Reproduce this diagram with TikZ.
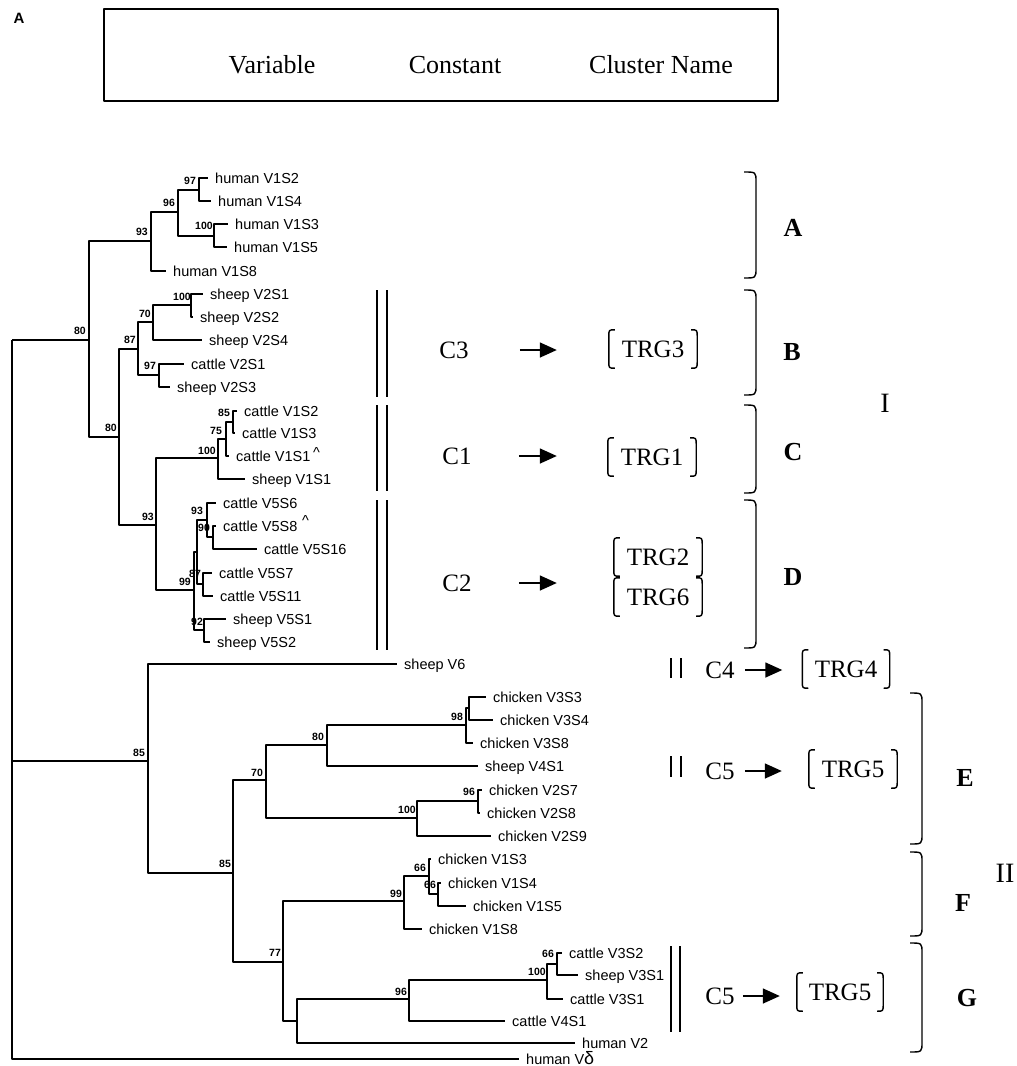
\documentclass[tikz,border=0pt]{standalone}
\usepackage{fontspec}
\setmainfont{Liberation Serif}
\newfontfamily\arialfont{Liberation Sans}
\usetikzlibrary{arrows.meta}

\tikzset{
  branch/.style={line width=1.2pt},
  leaf/.style={anchor=west, inner xsep=7pt, inner ysep=0pt, text height=10.4pt,
    text depth=0pt, font=\arialfont\fontsize{14.5}{16}\selectfont},
  boot/.style={inner sep=0pt, font=\arialfont\bfseries\fontsize{10.5}{12}\selectfont},
  gene/.style={inner sep=0pt, font=\fontsize{25}{28}\selectfont},
  trg/.style={gene, minimum width=88pt, minimum height=38pt},
  clus/.style={inner sep=0pt, font=\bfseries\fontsize{26}{28}\selectfont},
  grp/.style={inner sep=0pt, font=\fontsize{28}{30}\selectfont},
  brk/.style={line width=1.4pt},
  dbl/.style={line width=1.4pt},
  arr/.style={line width=1.5pt, -{Triangle[length=17pt, width=15pt]}},
}

% brackets round a cluster name node
\newcommand{\trgbrk}[1]{%
  \draw[brk] ([xshift=6pt]#1.north west) .. controls (#1.north west) .. ([yshift=-7pt]#1.north west)
    -- ([yshift=7pt]#1.south west) .. controls (#1.south west) .. ([xshift=6pt]#1.south west);
  \draw[brk] ([xshift=-6pt]#1.north east) .. controls (#1.north east) .. ([yshift=-7pt]#1.north east)
    -- ([yshift=7pt]#1.south east) .. controls (#1.south east) .. ([xshift=-6pt]#1.south east);}
% big bracket of a cluster: x, top, bottom
\newcommand{\clbrace}[3]{%
  \draw[brk] (#1,#2) .. controls (#1+12,#2) .. (#1+12,#2+10)
    -- (#1+12,#3-10) .. controls (#1+12,#3) .. (#1,#3);}

\begin{document}
\begin{tikzpicture}[x=1pt, y=-1pt, line join=round]
  \useasboundingbox (0,0) rectangle (1017,1066);

  % panel letter and legend box
  \node[font=\arialfont\bfseries\fontsize{15}{16}\selectfont] (panel) at (19,18) {A};
  \node[draw, line width=1.4pt, minimum width=674pt, minimum height=92pt] (legend) at (441,55) {};
  \node[font=\fontsize{26}{28}\selectfont, anchor=base] (hvar) at (272,73) {Variable};
  \node[font=\fontsize{26}{28}\selectfont, anchor=base] (hcon) at (455,73) {Constant};
  \node[font=\fontsize{26}{28}\selectfont, anchor=base] (hclu) at (661,73) {Cluster Name};

  % inner nodes of the tree
  \coordinate (root) at (12,340);
  \coordinate (n80a) at (89,340);   \coordinate (n93a) at (151,241);
  \coordinate (n96) at (178,212);   \coordinate (n97) at (199,190);
  \coordinate (n100a) at (214,236); \coordinate (n80b) at (119,437);
  \coordinate (n87) at (138,349);   \coordinate (n70a) at (153,322);
  \coordinate (n100b) at (191,305); \coordinate (n97b) at (159,375);
  \coordinate (n93b) at (156,525);  \coordinate (n100c) at (218,458);
  \coordinate (n75) at (226,439);   \coordinate (n85c) at (233,422);
  \coordinate (n99) at (194,590);   \coordinate (nX) at (197,552);
  \coordinate (n93c) at (207,520);  \coordinate (n90) at (213,537);
  \coordinate (n87b) at (203,584);  \coordinate (n92) at (204,630);
  \coordinate (n85a) at (148,761);  \coordinate (n85b) at (233,873);
  \coordinate (n70b) at (266,780);  \coordinate (n80c) at (327,745);
  \coordinate (n98) at (466,725);   \coordinate (nY) at (469,708);
  \coordinate (n100d) at (417,818); \coordinate (n96b) at (478,801);
  \coordinate (n77) at (283,962);   \coordinate (n99b) at (404,901);
  \coordinate (n66a) at (429,876);  \coordinate (n66b) at (438,894);
  \coordinate (nZ) at (297,1021);   \coordinate (n96c) at (409,999);
  \coordinate (n100e) at (547,980); \coordinate (n66c) at (557,964);

  % leaves
  \node[leaf] (hV1S2) at (208,178) {human V1S2};
  \node[leaf] (hV1S4) at (211,201) {human V1S4};
  \node[leaf] (hV1S3) at (228,224) {human V1S3};
  \node[leaf] (hV1S5) at (227,247) {human V1S5};
  \node[leaf] (hV1S8) at (166,271) {human V1S8};
  \node[leaf] (sV2S1) at (203,294) {sheep V2S1};
  \node[leaf] (sV2S2) at (193,317) {sheep V2S2};
  \node[leaf] (sV2S4) at (202,340) {sheep V2S4};
  \node[leaf] (cV2S1) at (184,364) {cattle V2S1};
  \node[leaf] (sV2S3) at (170,387) {sheep V2S3};
  \node[leaf] (cV1S2) at (237,411) {cattle V1S2};
  \node[leaf] (cV1S3) at (235,433) {cattle V1S3};
  \node[leaf] (cV1S1) at (229,456) {cattle V1S1};
  \node[leaf] (sV1S1) at (245,479) {sheep V1S1};
  \node[leaf] (cV5S6) at (216,503) {cattle V5S6};
  \node[leaf] (cV5S8) at (216,526) {cattle V5S8};
  \node[leaf] (cV5S16) at (257,549) {cattle V5S16};
  \node[leaf] (cV5S7) at (212,573) {cattle V5S7};
  \node[leaf] (cV5S11) at (213,596) {cattle V5S11};
  \node[leaf] (sV5S1) at (226,619) {sheep V5S1};
  \node[leaf] (sV5S2) at (210,642) {sheep V5S2};
  \node[leaf] (sV6) at (397,664) {sheep V6};
  \node[leaf] (chV3S3) at (486,697) {chicken V3S3};
  \node[leaf] (chV3S4) at (493,720) {chicken V3S4};
  \node[leaf] (chV3S8) at (473,743) {chicken V3S8};
  \node[leaf] (sV4S1) at (478,766) {sheep V4S1};
  \node[leaf] (chV2S7) at (482,790) {chicken V2S7};
  \node[leaf] (chV2S8) at (480,813) {chicken V2S8};
  \node[leaf] (chV2S9) at (491,836) {chicken V2S9};
  \node[leaf] (chV1S3) at (431,859) {chicken V1S3};
  \node[leaf] (chV1S4) at (441,883) {chicken V1S4};
  \node[leaf] (chV1S5) at (466,906) {chicken V1S5};
  \node[leaf] (chV1S8) at (422,929) {chicken V1S8};
  \node[leaf] (cV3S2) at (562,953) {cattle V3S2};
  \node[leaf] (sV3S1) at (578,975) {sheep V3S1};
  \node[leaf] (cV3S1) at (563,999) {cattle V3S1};
  \node[leaf] (cV4S1) at (505,1021) {cattle V4S1};
  \node[leaf] (hV2) at (575,1043) {human V2};
  \node[leaf] (hVd) at (519,1059) {human V{\fontsize{18}{18}\selectfont δ}};
  \node[leaf, inner xsep=0pt] (mk1) at (313,452) {\textasciicircum};
  \node[leaf, inner xsep=0pt] (mk2) at (302,520) {\textasciicircum};

  % branches, group I
  \draw[branch] (root) |- (n80a) (root) |- (n85a) (root) |- (hVd);
  \draw[branch] (n80a) |- (n93a) (n80a) |- (n80b);
  \draw[branch] (n93a) |- (n96) (n93a) |- (hV1S8);
  \draw[branch] (n96) |- (n97) (n96) |- (n100a);
  \draw[branch] (n97) |- (hV1S2) (n97) |- (hV1S4);
  \draw[branch] (n100a) |- (hV1S3) (n100a) |- (hV1S5);
  \draw[branch] (n80b) |- (n87) (n80b) |- (n93b);
  \draw[branch] (n87) |- (n70a) (n87) |- (n97b);
  \draw[branch] (n70a) |- (n100b) (n70a) |- (sV2S4);
  \draw[branch] (n100b) |- (sV2S1) (n100b) |- (sV2S2);
  \draw[branch] (n97b) |- (cV2S1) (n97b) |- (sV2S3);
  \draw[branch] (n93b) |- (n100c) (n93b) |- (n99);
  \draw[branch] (n100c) |- (n75) (n100c) |- (sV1S1);
  \draw[branch] (n75) |- (n85c) (n75) |- (cV1S1);
  \draw[branch] (n85c) |- (cV1S2) (n85c) |- (cV1S3);
  \draw[branch] (n99) |- (nX) (n99) |- (n92);
  \draw[branch] (nX) |- (n93c) (nX) |- (n87b);
  \draw[branch] (n93c) |- (cV5S6) (n93c) |- (n90);
  \draw[branch] (n90) |- (cV5S8) (n90) |- (cV5S16);
  \draw[branch] (n87b) |- (cV5S7) (n87b) |- (cV5S11);
  \draw[branch] (n92) |- (sV5S1) (n92) |- (sV5S2);
  % branches, group II
  \draw[branch] (n85a) |- (sV6) (n85a) |- (n85b);
  \draw[branch] (n85b) |- (n70b) (n85b) |- (n77);
  \draw[branch] (n70b) |- (n80c) (n70b) |- (n100d);
  \draw[branch] (n80c) |- (n98) (n80c) |- (sV4S1);
  \draw[branch] (n98) |- (nY) (n98) |- (chV3S8);
  \draw[branch] (nY) |- (chV3S3) (nY) |- (chV3S4);
  \draw[branch] (n100d) |- (n96b) (n100d) |- (chV2S9);
  \draw[branch] (n96b) |- (chV2S7) (n96b) |- (chV2S8);
  \draw[branch] (n77) |- (n99b) (n77) |- (nZ);
  \draw[branch] (n99b) |- (n66a) (n99b) |- (chV1S8);
  \draw[branch] (n66a) |- (chV1S3) (n66a) |- (n66b);
  \draw[branch] (n66b) |- (chV1S4) (n66b) |- (chV1S5);
  \draw[branch] (nZ) |- (n96c) (nZ) |- (hV2);
  \draw[branch] (n96c) |- (n100e) (n96c) |- (cV4S1);
  \draw[branch] (n100e) |- (n66c) (n100e) |- (cV3S1);
  \draw[branch] (n66c) |- (cV3S2) (n66c) |- (sV3S1);

  % bootstrap values
  \node[boot] (bs97a) at (190,181) {97};
  \node[boot] (bs96a) at (169,203) {96};
  \node[boot] (bs100a) at (204,226) {100};
  \node[boot] (bs93a) at (142,232) {93};
  \node[boot] (bs80a) at (80,331) {80};
  \node[boot] (bs100b) at (182,297) {100};
  \node[boot] (bs70a) at (145,314) {70};
  \node[boot] (bs87a) at (130,340) {87};
  \node[boot] (bs97b) at (150,366) {97};
  \node[boot] (bs80b) at (111,428) {80};
  \node[boot] (bs85a) at (224,413) {85};
  \node[boot] (bs75) at (216,431) {75};
  \node[boot] (bs100c) at (207,451) {100};
  \node[boot] (bs93b) at (148,517) {93};
  \node[boot] (bs93c) at (197,511) {93};
  \node[boot] (bs90) at (204,528) {90};
  \node[boot] (bs87b) at (195,574) {87};
  \node[boot] (bs99a) at (185,582) {99};
  \node[boot] (bs92) at (197,622) {92};
  \node[boot] (bs85b) at (139,753) {85};
  \node[boot] (bs80c) at (318,737) {80};
  \node[boot] (bs98) at (457,717) {98};
  \node[boot] (bs70b) at (257,773) {70};
  \node[boot] (bs96b) at (469,792) {96};
  \node[boot] (bs100d) at (407,810) {100};
  \node[boot] (bs85c) at (225,864) {85};
  \node[boot] (bs66a) at (420,868) {66};
  \node[boot] (bs66b) at (430,885) {66};
  \node[boot] (bs99b) at (396,894) {99};
  \node[boot] (bs77) at (275,953) {77};
  \node[boot] (bs96c) at (401,992) {96};
  \node[boot] (bs100e) at (537,972) {100};
  \node[boot] (bs66c) at (548,954) {66};

  % constant region markers
  \draw[dbl] (377,290) -- (377,397) (387,290) -- (387,397);
  \draw[dbl] (377,405) -- (377,491) (387,405) -- (387,491);
  \draw[dbl] (377,500) -- (377,650) (387,500) -- (387,650);
  \draw[dbl] (671,658) -- (671,678) (681,658) -- (681,678);
  \draw[dbl] (671,756) -- (671,777) (681,756) -- (681,777);
  \draw[dbl] (671,946) -- (671,1032) (680,946) -- (680,1032);

  % constant genes and cluster names
  \node[gene] (c3) at (454,350) {C3};
  \node[trg] (trg3) at (653,349) {TRG3};
  \node[gene] (c1) at (457,456) {C1};
  \node[trg] (trg1) at (652,457) {TRG1};
  \node[gene] (c2) at (457,583) {C2};
  \node[trg] (trg2) at (658,557) {TRG2};
  \node[trg] (trg6) at (658,597) {TRG6};
  \node[gene] (c4) at (720,670) {C4};
  \node[trg, minimum width=87pt] (trg4) at (846,669) {TRG4};
  \node[gene] (c5a) at (720,771) {C5};
  \node[trg] (trg5a) at (853,769) {TRG5\hspace{6pt}};
  \node[gene] (c5b) at (720,996) {C5};
  \node[trg, minimum width=86pt] (trg5b) at (840,992) {TRG5};
  \trgbrk{trg3} \trgbrk{trg1} \trgbrk{trg2} \trgbrk{trg6}
  \trgbrk{trg4} \trgbrk{trg5a} \trgbrk{trg5b}

  % arrows
  \draw[arr, shorten <=51pt, shorten >=52pt] (c3) -- (c3 -| trg3.west);
  \draw[arr, shorten <=47pt, shorten >=51pt] (c1) -- (c1 -| trg1.west);
  \draw[arr, shorten <=47pt, shorten >=57pt] (c2) -- (c2 -| trg2.west);
  \draw[arr, shorten <=10pt, shorten >=20pt] (c4) -- (c4 -| trg4.west);
  \draw[arr, shorten <=10pt, shorten >=27pt] (c5a) -- (c5a -| trg5a.west);
  \draw[arr, shorten <=8pt, shorten >=17pt] (c5b) -- (c5b -| trg5b.west);

  % clusters and groups
  \clbrace{744}{172}{278} \clbrace{744}{290}{395}
  \clbrace{744}{405}{493} \clbrace{744}{500}{648}
  \clbrace{910}{693}{844} \clbrace{910}{852}{936}
  \clbrace{910}{943}{1052}
  \node[clus] (clA) at (793,228) {A};
  \node[clus] (clB) at (792,352) {B};
  \node[clus] (clC) at (793,452) {C};
  \node[clus] (clD) at (793,577) {D};
  \node[clus] (clE) at (965,778) {E};
  \node[clus] (clF) at (963,903) {F};
  \node[clus] (clG) at (967,998) {G};
  \node[grp] (grI) at (885,403) {I};
  \node[grp] (grII) at (1005,873) {II};
\end{tikzpicture}
\end{document}
